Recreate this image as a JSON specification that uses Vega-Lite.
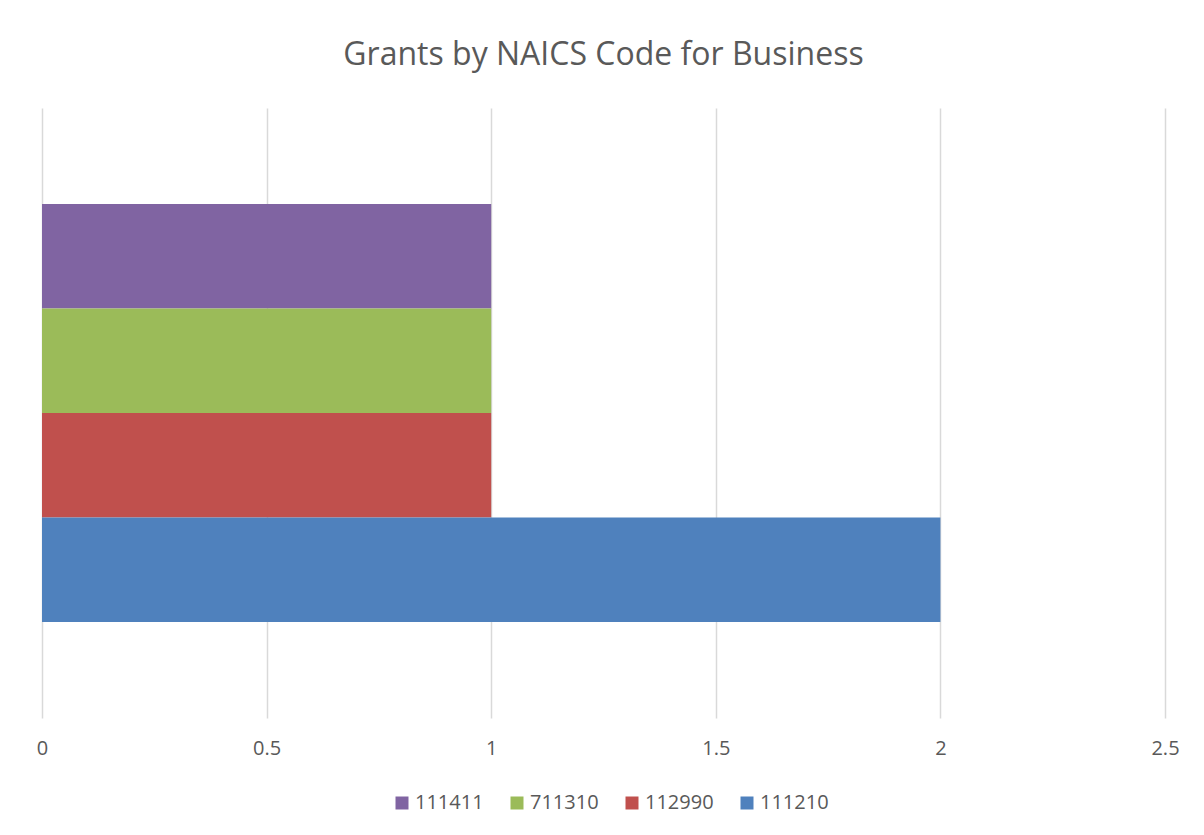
{
  "$schema": "https://vega.github.io/schema/vega-lite/v6.json",
  "autosize": "none",
  "width": 1123,
  "height": 610,
  "padding": {"left": 42, "top": 108, "right": 39, "bottom": 117},
  "background": "white",
  "title": {
    "text": "Grants by NAICS Code for Business",
    "font": "Open Sans",
    "fontSize": 32,
    "fontWeight": "normal",
    "color": "#595959",
    "anchor": "middle",
    "offset": 36
  },
  "data": {
    "values": [
      {"code": "111411", "grants": 1},
      {"code": "711310", "grants": 1},
      {"code": "112990", "grants": 1},
      {"code": "111210", "grants": 2}
    ]
  },
  "mark": {"type": "bar"},
  "encoding": {
    "y": {
      "field": "code",
      "type": "nominal",
      "sort": ["111411", "711310", "112990", "111210"],
      "scale": {"paddingInner": 0, "paddingOuter": 0.919},
      "axis": null
    },
    "x": {
      "field": "grants",
      "type": "quantitative",
      "scale": {"domain": [0, 2.5], "nice": false},
      "axis": {
        "values": [0, 0.5, 1, 1.5, 2, 2.5],
        "format": "~g",
        "title": null,
        "domain": false,
        "ticks": false,
        "grid": true,
        "gridColor": "#d9d9d9",
        "gridWidth": 1.5,
        "labelFont": "Open Sans",
        "labelFontSize": 20,
        "labelColor": "#595959",
        "labelPadding": 20,
        "labelFlush": false
      }
    },
    "color": {
      "field": "code",
      "type": "nominal",
      "sort": ["111411", "711310", "112990", "111210"],
      "scale": {
        "domain": ["111411", "711310", "112990", "111210"],
        "range": ["#8064A2", "#9BBB59", "#C0504D", "#4F81BD"]
      },
      "legend": {
        "title": null,
        "orient": "none",
        "direction": "horizontal",
        "legendX": 350,
        "legendY": 685,
        "symbolType": "square",
        "symbolSize": 169,
        "symbolStrokeWidth": 0,
        "labelFont": "Open Sans",
        "labelFontSize": 20,
        "labelColor": "#595959",
        "columnPadding": 23,
        "labelOffset": 3
      }
    }
  },
  "config": {
    "view": {"stroke": null}
  }
}
